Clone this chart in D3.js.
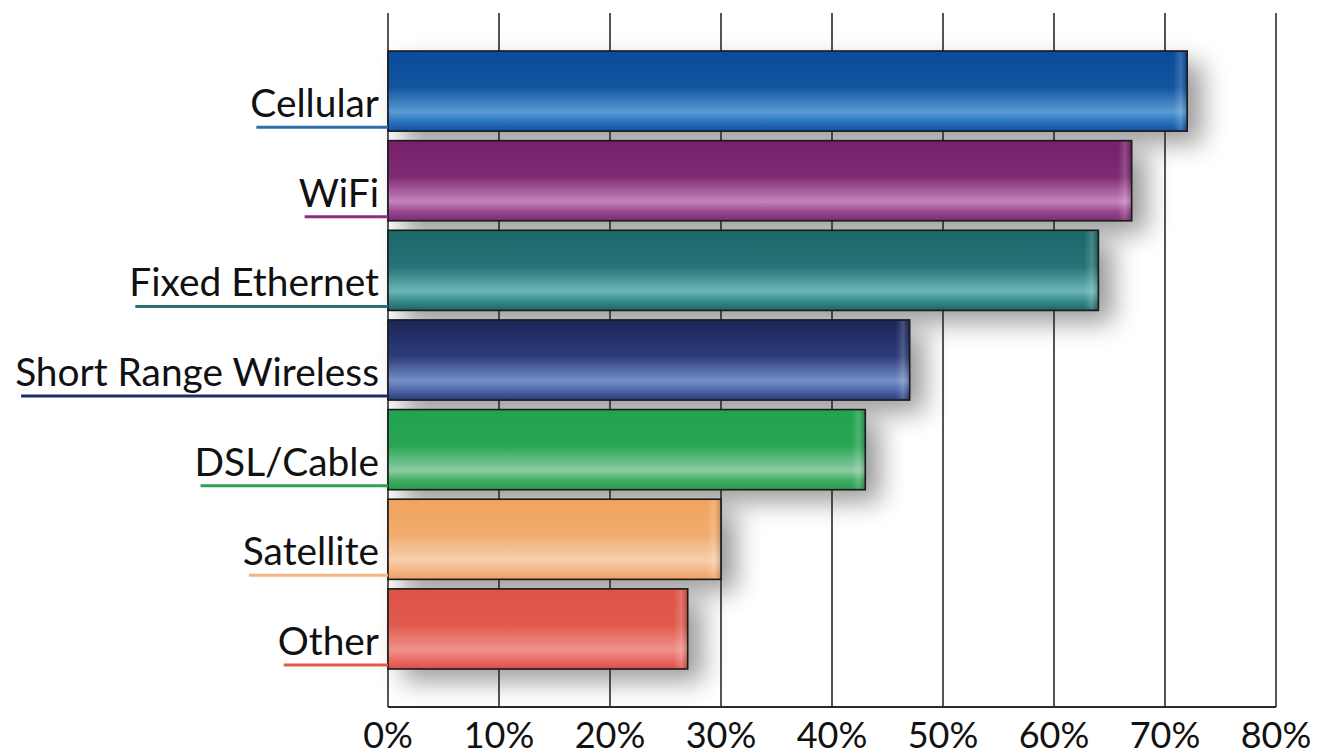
<!DOCTYPE html>
<html>
<head>
<meta charset="utf-8">
<script src="https://cdn.jsdelivr.net/npm/d3@7/dist/d3.min.js"></script>
<style>
  html, body { margin: 0; padding: 0; background: #ffffff; }
  svg { display: block; }
  text { font-family: Lato, "Open Sans", sans-serif; fill: #111; }
</style>
</head>
<body>
<svg id="chart" width="1319" height="755"></svg>
<script>
// Connection types and share of respondents (%)
const categories = ["Cellular", "WiFi", "Fixed Ethernet", "Short Range Wireless", "DSL/Cable", "Satellite", "Other"];
const values = [72, 67, 64, 47, 43, 30, 27];
const tickValues = [0, 10, 20, 30, 40, 50, 60, 70, 80];
const tickLabels = ["0%", "10%", "20%", "30%", "40%", "50%", "60%", "70%", "80%"];

// Per-bar gradient colours: [top, upper-mid, highlight, lower, bottom]
const barColors = [
  ["#0a4c9c", "#11559f", "#5b9ad4", "#2a74c0", "#134f9e"],
  ["#752068", "#7f2a74", "#c684bb", "#9a4a91", "#7a2a70"],
  ["#1b686b", "#257376", "#6bb6b5", "#3a8d8d", "#1d6466"],
  ["#1b2658", "#2c3c78", "#7590c8", "#4d66a8", "#263a78"],
  ["#22a34e", "#2aa553", "#8ccca2", "#43ad66", "#239a4c"],
  ["#f0a35c", "#f2ad70", "#f6cfac", "#f5b888", "#eea062"],
  ["#de5246", "#e05a4e", "#ef928a", "#ea6e68", "#dc4f48"]
];
const lineColors = ["#2f6ca8", "#8a2f7f", "#2a6f72", "#1e2c66", "#2aa154", "#f1b487", "#e2584b"];

const svg = d3.select("#chart");
const margin = { left: 388, right: 1276, top: 13, bottom: 707 };

const x = d3.scaleLinear().domain([0, 80]).range([margin.left, margin.right]);
const y = d3.scaleBand().domain(categories).range([51, 669]).paddingInner(0.106).paddingOuter(0);

const defs = svg.append("defs");

// Soft drop shadow below and to the right of each bar
const shadow = defs.append("filter").attr("id", "barShadow")
  .attr("x", "-10%").attr("y", "-40%").attr("width", "140%").attr("height", "200%");
shadow.append("feGaussianBlur").attr("in", "SourceAlpha").attr("stdDeviation", 13).attr("result", "blur");
shadow.append("feOffset").attr("in", "blur").attr("dx", 15).attr("dy", 12).attr("result", "off");
shadow.append("feComponentTransfer").attr("in", "off")
  .append("feFuncA").attr("type", "linear").attr("slope", 0.4);

barColors.forEach((c, i) => {
  const g = defs.append("linearGradient").attr("id", "grad" + i)
    .attr("x1", 0).attr("y1", 0).attr("x2", 0).attr("y2", 1);
  [[0, c[0]], [0.45, c[1]], [0.76, c[2]], [0.88, c[3]], [1, c[4]]].forEach(([o, col]) =>
    g.append("stop").attr("offset", o).attr("stop-color", col));
});

// Glossy sheen near the right end of each bar
const sheen = defs.append("linearGradient").attr("id", "endSheen")
  .attr("x1", 0).attr("y1", 0).attr("x2", 1).attr("y2", 0);
sheen.append("stop").attr("offset", 0).attr("stop-color", "#fff").attr("stop-opacity", 0);
sheen.append("stop").attr("offset", 0.55).attr("stop-color", "#fff").attr("stop-opacity", 0.18);
sheen.append("stop").attr("offset", 1).attr("stop-color", "#000").attr("stop-opacity", 0.15);

// Shadows
svg.append("g").selectAll("rect").data(categories).join("rect")
  .attr("x", margin.left)
  .attr("y", d => y(d))
  .attr("width", (d, i) => x(values[i]) - x(0))
  .attr("height", y.bandwidth())
  .attr("fill", "#000")
  .attr("filter", "url(#barShadow)");

// Vertical grid lines
svg.append("g").selectAll("line").data(tickValues).join("line")
  .attr("x1", d => x(d)).attr("x2", d => x(d))
  .attr("y1", margin.top).attr("y2", margin.bottom)
  .attr("stroke", "#2a2a2a").attr("stroke-width", 1.6);

// Bottom axis line
svg.append("line")
  .attr("x1", x(0)).attr("x2", x(80))
  .attr("y1", margin.bottom).attr("y2", margin.bottom)
  .attr("stroke", "#2a2a2a").attr("stroke-width", 1.8);

// Bars
const bars = svg.append("g");
bars.selectAll("rect.bar").data(categories).join("rect")
  .attr("class", "bar")
  .attr("x", x(0))
  .attr("y", d => y(d))
  .attr("width", (d, i) => x(values[i]) - x(0))
  .attr("height", y.bandwidth())
  .attr("fill", (d, i) => `url(#grad${i})`);

bars.selectAll("rect.sheen").data(categories).join("rect")
  .attr("class", "sheen")
  .attr("x", (d, i) => x(values[i]) - 14)
  .attr("y", d => y(d) + 1)
  .attr("width", 14)
  .attr("height", y.bandwidth() - 2)
  .attr("fill", "url(#endSheen)");

bars.selectAll("rect.outline").data(categories).join("rect")
  .attr("class", "outline")
  .attr("x", x(0))
  .attr("y", d => y(d))
  .attr("width", (d, i) => x(values[i]) - x(0))
  .attr("height", y.bandwidth())
  .attr("fill", "none")
  .attr("stroke", "#1a1a1a").attr("stroke-width", 1.6);

// Category labels with coloured underlines
const fontSize = 36;
const labels = svg.append("g").selectAll("g").data(categories).join("g");
labels.append("text")
  .attr("x", x(0) - 9)
  .attr("y", d => y(d) + y.bandwidth() - 14)
  .attr("text-anchor", "end")
  .attr("font-size", fontSize)
  .text(d => d);

// Scale the label font so the longest name fits the left margin
const longest = d3.max(labels.selectAll("text").nodes(), n => n.getComputedTextLength());
const fitted = fontSize * 364 / longest;
labels.selectAll("text").attr("font-size", fitted);

labels.each(function (d, i) {
  const g = d3.select(this);
  const bb = g.select("text").node().getBBox();
  g.append("line")
    .attr("x1", bb.x + 6).attr("x2", x(0))
    .attr("y1", y(d) + y.bandwidth() - 4).attr("y2", y(d) + y.bandwidth() - 4)
    .attr("stroke", lineColors[i]).attr("stroke-width", 3);
});

// Tick labels
svg.append("g").selectAll("text").data(tickValues).join("text")
  .attr("x", d => x(d))
  .attr("y", 748)
  .attr("text-anchor", "middle")
  .attr("font-size", 36)
  .text((d, i) => tickLabels[i]);
</script>
</body>
</html>
